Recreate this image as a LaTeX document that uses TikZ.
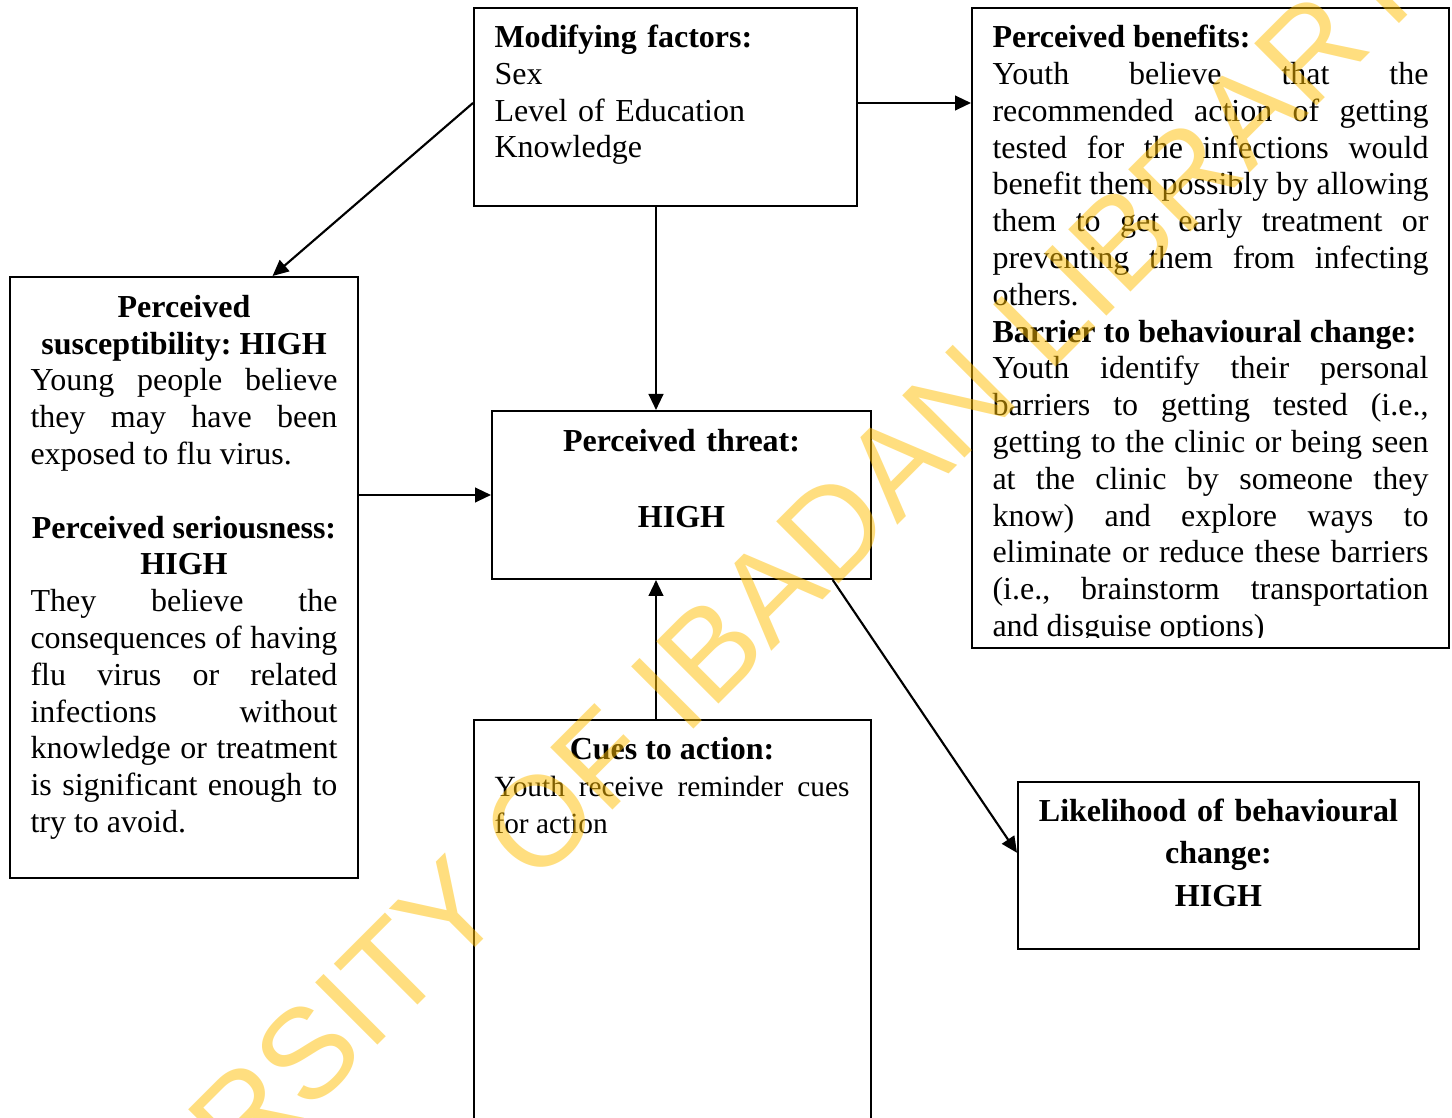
\documentclass[tikz,border=0pt]{standalone}
\usepackage{fontspec}
\setmainfont{Liberation Serif}
\newfontfamily\wmfont{Liberation Sans}
\usetikzlibrary{arrows.meta,positioning,fit,calc}
\definecolor{wmyellow}{RGB}{255,190,0}
\tolerance=10000 \hbadness=10000 \hyphenpenalty=10000 \frenchspacing

\begin{document}
\begin{tikzpicture}[x=0.375pt, y=-0.375pt, >={Triangle[length=6pt,width=5.5pt]},
  box/.style={draw, line width=0.75pt, inner sep=0pt},
  txt/.style={inner sep=0pt, align=justify, font=\fontsize{12}{13.8}\selectfont},
  arr/.style={->, line width=0.8pt},
  wmark/.style={rotate=45, anchor=base west, inner sep=0pt, text=wmyellow,
    text opacity=0.5, font=\wmfont\fontsize{48}{48}\selectfont}]
  \useasboundingbox (0,0) rectangle (1452,1118);
  \node[box, fit={(474,8) (857,206)}] (mod) {};
  \node[box, fit={(972,8) (1449,648)}] (ben) {};
  \node[box, fit={(10,277) (358,878)}] (sus) {};
  \node[box, fit={(492,411) (871,579)}] (thr) {};
  \node[box, fit={(474,720) (871,1140)}] (cue) {};
  \node[box, fit={(1018,782) (1419,949)}] (lik) {};
  \node[txt, anchor=north west, text width=127.9pt, align=left]
    (modtxt) at ([shift={(21,14.2)}]mod.north west)
    {\textbf{\strut Modifying factors:}\\ Sex\\ Level of Education\\ Knowledge};
  \begin{scope}
    \clip (ben.north west) rectangle ([shift={(0,-11)}]ben.south east);
    \node[txt, anchor=north west, text width=163.5pt]
      (bentxt) at ([shift={(21,14.5)}]ben.north west)
      {\textbf{\strut Perceived benefits:}\\
       Youth believe that the\linebreak
       recommended action of getting\linebreak
       tested for the infections would\linebreak
       benefit them possibly by allowing\linebreak
       them to get early treatment or\linebreak
       preventing them from infecting\linebreak
       others.\\
       \textbf{Barrier to behavioural change:}\\
       Youth identify their personal\linebreak
       barriers to getting tested (i.e.,\linebreak
       getting to the clinic or being seen\linebreak
       at the clinic by someone they\linebreak
       know) and explore ways to\linebreak
       eliminate or reduce these barriers\linebreak
       (i.e., brainstorm transportation\linebreak
       and disguise options)};
  \end{scope}
  \node[txt, anchor=north west, text width=115.1pt]
    (sustxt) at ([shift={(21,15)}]sus.north west)
    {{\centering\bfseries\strut Perceived\\ susceptibility: HIGH\par}
     Young people believe\linebreak
     they may have been\linebreak
     exposed to flu virus.\par
     \vspace{13.8pt}
     {\centering\bfseries Perceived seriousness:\\ HIGH\par}
     They believe the\linebreak
     consequences of having\linebreak
     flu virus or related\linebreak
     infections without\linebreak
     knowledge or treatment\linebreak
     is significant enough to\linebreak
     try to avoid.};
  \node[txt, anchor=north, text width=127pt, align=center]
    (thrtxt) at ([shift={(0,15)}]thr.north)
    {\bfseries\strut Perceived threat:\\[14.6pt] HIGH};
  \node[txt, anchor=north west, text width=133.1pt]
    (cuetxt) at ([shift={(21,14.2)}]cue.north west)
    {{\centering\bfseries\strut Cues to action:\par}
     \fontsize{11}{12.65}\selectfont
     Youth receive reminder cues\linebreak for action};
  \node[txt, anchor=north, text width=142.5pt, align=center,
    font=\fontsize{12}{15.94}\selectfont\bfseries]
    (liktxt) at ([shift={(0,10)}]lik.north)
    {\strut Likelihood of behavioural\\ change:\\ HIGH};
  \coordinate (vx) at (656,0);
  \coordinate (ml) at ($(mod.north west)!.48!(mod.south west)$);
  \coordinate (mr) at ($(mod.north east)!.48!(mod.south east)$);
  \draw[arr] (ml) -- ($(sus.north west)!.753!(sus.north east)$);
  \draw[arr] (mr) -- (ben.west |- mr);
  \draw[arr] (mod.south -| vx) -- (thr.north -| vx);
  \draw[arr] (sus.east |- thr.west) -- (thr.west);
  \draw[arr] (cue.north -| vx) -- (thr.south -| vx);
  \draw[arr] ($(thr.south west)!.897!(thr.south east)$)
    -- ($(lik.north west)!.425!(lik.south west)$);
  \node[wmark] (wm) at (-33.5,1456.5) {UNIVERSITY OF IBADAN LIBRARY};
\end{tikzpicture}
\end{document}
